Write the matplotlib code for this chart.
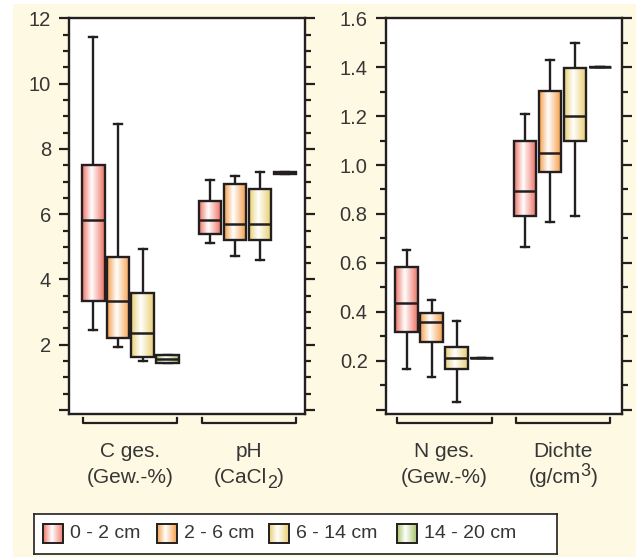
import numpy as np
import matplotlib
matplotlib.use('Agg')
import matplotlib.pyplot as plt
import matplotlib.transforms as mtransforms
from matplotlib.patches import Rectangle
from matplotlib.colors import LinearSegmentedColormap

plt.rcParams['font.family'] = ['Liberation Sans', 'DejaVu Sans']

# soil depths (legend) and box colours
depths = ['0 - 2 cm', '2 - 6 cm', '6 - 14 cm', '14 - 20 cm']
colors = ['#ee7366', '#f59f4c', '#e8cf72', '#a7c46a']

# each box: whisker low, q1, median, q3, whisker high
c_ges = [[2.45, 3.35, 5.83, 7.50, 11.44],
         [1.94, 2.21, 3.35, 4.68, 8.76],
         [1.49, 1.63, 2.35, 3.58, 4.94],
         [1.43, 1.43, 1.56, 1.69, 1.69]]
ph = [[5.11, 5.38, 5.83, 6.39, 7.04],
      [4.73, 5.20, 5.71, 6.91, 7.17],
      [4.61, 5.20, 5.71, 6.78, 7.28],
      [7.23, 7.23, 7.26, 7.29, 7.29]]
n_ges = [[0.166, 0.319, 0.437, 0.582, 0.653],
         [0.132, 0.278, 0.360, 0.394, 0.448],
         [0.030, 0.167, 0.210, 0.257, 0.361],
         [0.210, 0.210, 0.210, 0.210, 0.210]]
dichte = [[0.666, 0.793, 0.895, 1.099, 1.209],
          [0.769, 0.973, 1.048, 1.304, 1.430],
          [0.793, 1.099, 1.201, 1.396, 1.498],
          [1.400, 1.400, 1.400, 1.400, 1.400]]

# group labels: first line, second line as pieces (text, kind) kind: n normal, sub, sup
labels_left = [('C ges.', [('(Gew.-%)', 'n')]),
               ('pH', [('(CaCl', 'n'), ('2', 'sub'), (')', 'n')])]
labels_right = [('N ges.', [('(Gew.-%)', 'n')]),
                ('Dichte', [('(g/cm', 'n'), ('3', 'sup'), (')', 'n')])]

dark = '#231f20'
txt = '#363636'
W, H = 636, 557

fig = plt.figure(figsize=(W / 100, H / 100), dpi=100, facecolor='white')
fig.patches.append(Rectangle((13 / W, 0), 1, 1 - 4 / H, transform=fig.transFigure,
                             facecolor='#fdf9e2', edgecolor='none', zorder=-10))
renderer = fig.canvas.get_renderer()


def grad_cmap(c):
    return LinearSegmentedColormap.from_list('g', [(0, c), (0.42, 'white'), (1, c)])


def draw_group(ax, data, start, width):
    stats = []
    for d in data:
        stats.append({'whislo': d[0], 'q1': d[1], 'med': d[2], 'q3': d[3], 'whishi': d[4]})
    pos = [start + i for i in range(len(data))]
    ax.bxp(stats, positions=pos, widths=width, showfliers=False, patch_artist=True,
           capwidths=0.3,
           boxprops=dict(facecolor='none', edgecolor=dark, linewidth=1.7, zorder=3),
           whiskerprops=dict(color=dark, linewidth=1.7, zorder=2),
           capprops=dict(color=dark, linewidth=1.7, zorder=2),
           medianprops=dict(color=dark, linewidth=1.8, zorder=4))
    grad = np.linspace(0, 1, 64).reshape(1, -1)
    for p, d, c in zip(pos, data, colors):
        if d[3] > d[1]:
            ax.imshow(grad, cmap=grad_cmap(c), aspect='auto', interpolation='bilinear',
                      extent=(p - width / 2, p + width / 2, d[1], d[3]), zorder=2.5)
    return pos


def pieces_text(ax, trans, xc, y, pieces, fs):
    arts = []
    widths = []
    for s, kind in pieces:
        size = fs if kind == 'n' else fs * 0.86
        t = ax.text(xc, y, s, transform=trans, ha='left', va='baseline', fontsize=size,
                    color=txt, clip_on=False)
        arts.append((t, kind))
        widths.append(t.get_window_extent(renderer).width * 72 / 100)
    total = sum(widths)
    off = -total / 2
    for (t, kind), w in zip(arts, widths):
        dy = {'n': 0, 'sub': -4.0, 'sup': 4.5}[kind]
        t.set_transform(mtransforms.offset_copy(trans, fig=fig, x=off, y=dy, units='points'))
        off += w


def panel(rect, groups, labels, starts, widths, ylim, major, minor, ticklabels, brackets):
    ax = fig.add_axes(rect)
    ax.set_facecolor('white')
    for g, s, w in zip(groups, starts, widths):
        draw_group(ax, g, s, w)
    ax.set_xlim(0, 9.44)
    ax.set_ylim(*ylim)
    ax.set_xticks([])
    ax.set_yticks(major)
    ax.set_yticks(minor, minor=True)
    ax.set_yticklabels(ticklabels)
    ax.yaxis.set_ticks_position('both')
    ax.tick_params(axis='y', which='major', direction='out', length=7, width=1.6,
                   color=dark, pad=6, labelsize=14.5, labelcolor=txt)
    ax.tick_params(axis='y', which='minor', direction='out', length=4, width=1.6, color=dark)
    for sp in ax.spines.values():
        sp.set_color(dark)
        sp.set_linewidth(1.7)
    trans = mtransforms.blended_transform_factory(ax.transData, ax.transAxes)
    for (x0, x1), (l1, l2) in zip(brackets, labels):
        ax.plot([x0, x0, x1, x1], [-0.011, -0.022, -0.022, -0.011], transform=trans,
                clip_on=False, color=dark, linewidth=1.6)
        xc = (x0 + x1) / 2
        ax.text(xc, -0.109, l1, transform=trans, ha='center', va='baseline',
                fontsize=15, color=txt)
        pieces_text(ax, trans, xc, -0.1736, l2, 15)
    return ax


ax_bottom = 1 - 414 / H
ax_height = 395.7 / H

panel([69.3 / W, ax_bottom, 235.7 / W, ax_height], [c_ges, ph], labels_left,
      [0.95, 5.63], [0.92, 0.86], (-0.12, 12), np.arange(0, 12.1, 2), np.arange(0, 12.1, 0.5),
      ['', '2', '4', '6', '8', '10', '12'], [(0.54, 4.30), (5.30, 9.07)])

panel([385.7 / W, ax_bottom, 236 / W, ax_height], [n_ges, dichte], labels_right,
      [0.84, 5.57], [0.92, 0.85], (-0.018, 1.6), np.arange(0, 1.61, 0.2), np.arange(0, 1.61, 0.1),
      ['', '0.2', '0.4', '0.6', '0.8', '1.0', '1.2', '1.4', '1.6'], [(0.44, 4.24), (5.22, 8.97)])

# legend drawn in its own framed axes (pixel coordinates)
lx0, lx1, ly0, ly1 = 34.3, 556.7, 514.3, 554
lax = fig.add_axes([lx0 / W, 1 - ly1 / H, (lx1 - lx0) / W, (ly1 - ly0) / H])
lax.set_xticks([])
lax.set_yticks([])
lax.set_facecolor('white')
for sp in lax.spines.values():
    sp.set_color(dark)
    sp.set_linewidth(1.2)
grad = np.linspace(0, 1, 64).reshape(1, -1)
for px, lab, c in zip([43.3, 156.7, 269.3, 397.3], depths, colors):
    lax.imshow(grad, cmap=grad_cmap(c), aspect='auto', interpolation='bilinear',
               extent=(px, px + 20, 542.7, 524))
    lax.add_patch(Rectangle((px, 524), 20, 18.7, facecolor='none', edgecolor=dark, linewidth=1.4))
    lax.text(px + 27, 533.5, lab, ha='left', va='center', fontsize=14, color=txt)
lax.set_xlim(lx0, lx1)
lax.set_ylim(ly1, ly0)

fig.savefig('out.png', dpi=100, facecolor=fig.get_facecolor())
